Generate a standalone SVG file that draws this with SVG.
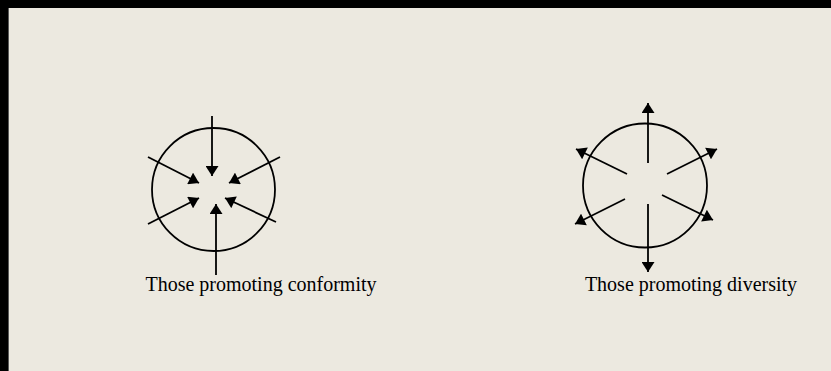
<svg xmlns="http://www.w3.org/2000/svg" width="831" height="371" viewBox="0 0 831 371">
<style>
.c{fill:none;stroke:#000;stroke-width:1.8}
.a{stroke:#000;stroke-width:1.8;fill:none;marker-end:url(#ah)}
.t{font-family:"Liberation Serif","Times New Roman",serif;font-size:20px;fill:#000;text-anchor:middle}
</style>
<defs>
<marker id="ah" viewBox="0 0 10 13" refX="10" refY="6.5" markerWidth="11" markerHeight="13" markerUnits="userSpaceOnUse" orient="auto">
<path d="M0,0 L10,6.5 L0,13 z" fill="#000"/>
</marker>
</defs>
<rect x="0" y="0" width="831" height="371" fill="#000"/>
<rect x="8" y="8" width="823" height="363" fill="#ECE9E0"/>
<line x1="8.5" y1="8" x2="8.5" y2="371" stroke="#5a5a5a" stroke-width="1"/>
<g id="conformity">
<circle class="c" cx="213.5" cy="189.5" r="61.5"/>
<text class="t" x="261" y="291">Those promoting conformity</text>
</g>
<g id="diversity">
<circle class="c" cx="645" cy="185.5" r="62"/>
<text class="t" x="691" y="291">Those promoting diversity</text>
</g>
<g id="connectors">
<line class="a" x1="212" y1="116" x2="212" y2="176"/>
<line class="a" x1="216" y1="275" x2="216" y2="204"/>
<line class="a" x1="148" y1="157" x2="199" y2="183"/>
<line class="a" x1="280" y1="157" x2="229" y2="183"/>
<line class="a" x1="148" y1="224" x2="199" y2="198"/>
<line class="a" x1="276" y1="222" x2="225" y2="198"/>
<line class="a" x1="648" y1="163" x2="648" y2="103"/>
<line class="a" x1="648" y1="204" x2="648" y2="272"/>
<line class="a" x1="627" y1="174" x2="576" y2="149"/>
<line class="a" x1="667" y1="174" x2="717" y2="149"/>
<line class="a" x1="625" y1="199" x2="575" y2="224"/>
<line class="a" x1="662" y1="195" x2="713" y2="220"/>
</g>
</svg>
